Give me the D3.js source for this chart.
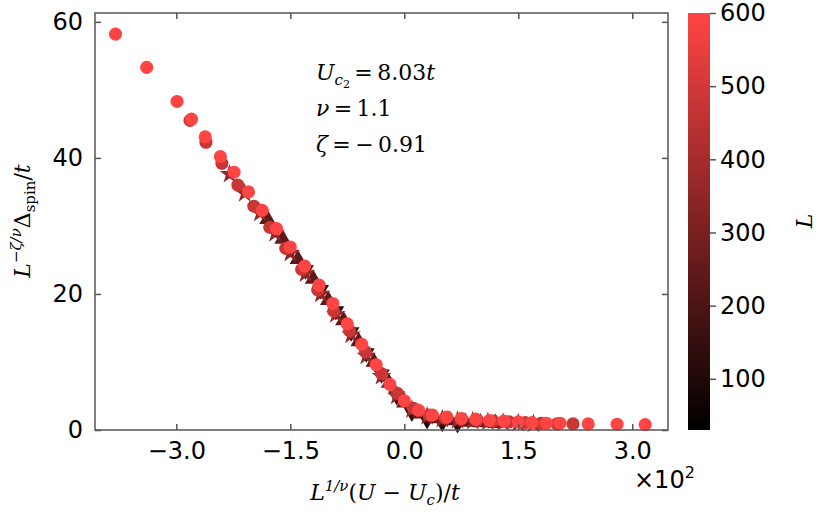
<!DOCTYPE html>
<html>
<head>
<meta charset="utf-8">
<script src="https://cdn.jsdelivr.net/npm/d3@7"></script>
<style>
  body { margin: 0; background: #fff; }
  text { font-family: "DejaVu Sans", sans-serif; }
  text.math, .math text { font-family: "DejaVu Serif", serif; font-style: italic; }
</style>
</head>
<body>
<svg id="chart" width="830" height="515"></svg>
<script>
// data, x in units of 10^2
const L600x = [-3.80,-3.39,-2.99,-2.80,-2.62,-2.42,-2.24,-2.05,-1.87,-1.68,-1.50,-1.31,-1.12,-0.94,-0.75,-0.56,-0.37,-0.19,0.00,0.19,0.37,0.56,0.75,0.94,1.12,1.31,1.50,1.68,1.87,2.05,2.42,2.80,3.17];
const L600y = [58.2,53.3,48.3,45.7,43.1,40.2,37.9,35.0,32.3,29.6,26.9,24.1,21.3,18.6,15.6,12.6,9.6,6.7,4.3,2.9,2.2,1.9,1.7,1.6,1.4,1.3,1.2,1.1,1.0,1.0,0.9,0.85,0.8];
const L480x = [-2.82,-2.61,-2.40,-2.19,-1.98,-1.77,-1.56,-1.35,-1.14,-0.93,-0.72,-0.51,-0.30,-0.09,0.12,0.33,0.54,0.75,0.96,1.17,1.38,1.59,1.80,2.01,2.22];
const L480y = [45.5,42.3,39.2,36.0,32.9,29.8,26.7,23.6,20.6,17.5,14.6,11.5,8.3,5.4,3.2,2.2,1.8,1.6,1.4,1.3,1.2,1.1,1.0,0.9,0.9];
const L360x = [-2.30,-2.10,-1.90,-1.70,-1.50,-1.30,-1.10,-0.90,-0.70,-0.50,-0.30,-0.10,0.10,0.30,0.50,0.70,0.90,1.10,1.30,1.50,1.70];
const L360y = [37.6,34.8,31.9,28.9,26.0,23.0,20.0,17.0,14.0,10.9,7.9,5.0,3.0,2.0,1.6,1.4,1.3,1.2,1.1,1.0,0.9];
const L240x = [-1.80,-1.60,-1.40,-1.20,-1.00,-0.80,-0.60,-0.40,-0.20,0.00,0.20,0.40,0.60,0.80,1.00,1.20];
const L240y = [31.0,28.1,25.1,22.2,19.1,16.1,13.0,10.0,6.9,4.0,2.4,1.7,1.4,1.2,1.1,1.0];
const L120x = [-1.30,-1.10,-0.90,-0.70,-0.50,-0.30,-0.10,0.10,0.30,0.50,0.70];
const L120y = [23.5,20.6,17.5,14.4,11.3,8.2,5.0,2.6,1.5,1.1,0.9];

const xTicks = [-3.0, -1.5, 0.0, 1.5, 3.0];
const yTicks = [0, 20, 40, 60];
const cTicks = [100, 200, 300, 400, 500, 600];

const series = [
  {L: 120, xs: L120x, ys: L120y, sym: d3.symbolTriangle, rot: 180},
  {L: 240, xs: L240x, ys: L240y, sym: d3.symbolTriangle, rot: 0},
  {L: 360, xs: L360x, ys: L360y, sym: d3.symbolStar, rot: 0},
  {L: 480, xs: L480x, ys: L480y, sym: d3.symbolCircle, rot: 0},
  {L: 600, xs: L600x, ys: L600y, sym: d3.symbolCircle, rot: 0}
];

const svg = d3.select('#chart');
const m = {l: 95, r: 668, t: 13, b: 430};
const x = d3.scaleLinear().domain([-4.07, 3.47]).range([m.l, m.r]);
const y = d3.scaleLinear().domain([0, 61.3]).range([m.b, m.t]);
const col = d3.scaleLinear().domain([30, 600]).range(['#000000', '#ff4444']);
const axisCol = '#555';

// points
series.forEach(s => {
  const sz = s.sym === d3.symbolCircle ? 135 : 120;
  svg.append('g').selectAll('path')
    .data(s.xs.map((v, i) => [v, s.ys[i]]))
    .join('path')
    .attr('d', d3.symbol().type(s.sym).size(sz))
    .attr('transform', d => `translate(${x(d[0])},${y(d[1])}) rotate(${s.rot})`)
    .attr('fill', col(s.L));
});

// frame + ticks (inward, all sides)
const tickFmt = d => (d < 0 ? '\u2212' : '') + Math.abs(d).toFixed(1);
svg.append('g').attr('transform', `translate(0,${m.b})`)
  .call(d3.axisBottom(x).tickValues(xTicks).tickSizeInner(-6).tickSizeOuter(0).tickPadding(12).tickFormat(tickFmt));
svg.append('g').attr('transform', `translate(0,${m.t})`)
  .call(d3.axisTop(x).tickValues(xTicks).tickSizeInner(-6).tickSizeOuter(0).tickFormat(''));
svg.append('g').attr('transform', `translate(${m.l},0)`)
  .call(d3.axisLeft(y).tickValues(yTicks).tickSizeInner(-6).tickSizeOuter(0).tickPadding(12));
svg.append('g').attr('transform', `translate(${m.r},0)`)
  .call(d3.axisRight(y).tickValues(yTicks).tickSizeInner(-6).tickSizeOuter(0).tickFormat(''));
svg.selectAll('.domain').remove();
svg.selectAll('.tick line').attr('stroke', axisCol).attr('stroke-width', 1.5);
svg.selectAll('.tick text').attr('font-size', 24).attr('fill', '#000');
svg.append('rect').attr('x', m.l).attr('y', m.t).attr('width', m.r - m.l).attr('height', m.b - m.t)
  .attr('fill', 'none').attr('stroke', axisCol).attr('stroke-width', 1.5);

// colorbar
const cb = {x: 688, w: 22};
const cy = d3.scaleLinear().domain([30, 600]).range([m.b, m.t]);
const grad = svg.append('defs').append('linearGradient').attr('id', 'cg')
  .attr('x1', 0).attr('y1', 1).attr('x2', 0).attr('y2', 0);
grad.append('stop').attr('offset', 0).attr('stop-color', col(30));
grad.append('stop').attr('offset', 1).attr('stop-color', col(600));
svg.append('rect').attr('x', cb.x).attr('y', m.t).attr('width', cb.w).attr('height', m.b - m.t).attr('fill', 'url(#cg)');
const cax = svg.append('g').attr('transform', `translate(${cb.x + cb.w},0)`)
  .call(d3.axisRight(cy).tickValues(cTicks).tickSize(6).tickPadding(4));
cax.select('.domain').remove();
cax.selectAll('.tick line').attr('stroke', axisCol).attr('stroke-width', 1.5);
cax.selectAll('.tick text').attr('font-size', 24).attr('fill', '#000');
svg.append('text').attr('class', 'math').attr('font-size', 22)
  .attr('transform', 'translate(812,221) rotate(-90)').attr('text-anchor', 'middle').text('L');

// annotation
const t1 = svg.append('text').attr('class', 'math').attr('font-size', 22).attr('x', 316).attr('y', 80);
t1.append('tspan').text('U');
t1.append('tspan').attr('font-size', 15).attr('dy', 5).text('c');
t1.append('tspan').attr('font-size', 11).attr('dy', 3).attr('font-style', 'normal').text('2');
t1.append('tspan').attr('dy', -8).attr('font-style', 'normal').text('\u2009=\u20098.03');
t1.append('tspan').text('t');
const t2 = svg.append('text').attr('class', 'math').attr('font-size', 22).attr('x', 316).attr('y', 116);
t2.append('tspan').text('\u03bd');
t2.append('tspan').attr('font-style', 'normal').text('\u2009=\u20091.1');
const t3 = svg.append('text').attr('class', 'math').attr('font-size', 22).attr('x', 316).attr('y', 152);
t3.append('tspan').text('\u03b6');
t3.append('tspan').attr('font-style', 'normal').text('\u2009=\u2009\u2212\u20090.91');

// x label
const xl = svg.append('text').attr('class', 'math').attr('font-size', 22)
  .attr('x', 385).attr('y', 500).attr('text-anchor', 'middle');
xl.append('tspan').text('L');
xl.append('tspan').attr('font-size', 15).attr('dy', -9).text('1/\u03bd');
xl.append('tspan').attr('dy', 9).attr('font-style', 'normal').text('(');
xl.append('tspan').text('U');
xl.append('tspan').attr('font-style', 'normal').text(' \u2212 ');
xl.append('tspan').text('U');
xl.append('tspan').attr('font-size', 15).attr('dy', 5).text('c');
xl.append('tspan').attr('dy', -5).attr('font-style', 'normal').text(')/');
xl.append('tspan').text('t');

// y label
const yl = svg.append('text').attr('class', 'math').attr('font-size', 22)
  .attr('transform', 'translate(30,221) rotate(-90)').attr('text-anchor', 'middle');
yl.append('tspan').text('L');
yl.append('tspan').attr('font-size', 15).attr('dy', -9).text('\u2212\u03b6/\u03bd');
yl.append('tspan').attr('dy', 9).attr('font-style', 'normal').text('\u0394');
yl.append('tspan').attr('font-size', 15).attr('dy', 5).attr('font-style', 'normal').text('spin');
yl.append('tspan').attr('dy', -5).attr('font-style', 'normal').text('/');
yl.append('tspan').text('t');

// offset text
const off = svg.append('text').attr('font-size', 24).attr('x', 634).attr('y', 488);
off.append('tspan').text('\u00d710');
off.append('tspan').attr('font-size', 16).attr('dy', -10).text('2');
</script>
</body>
</html>
